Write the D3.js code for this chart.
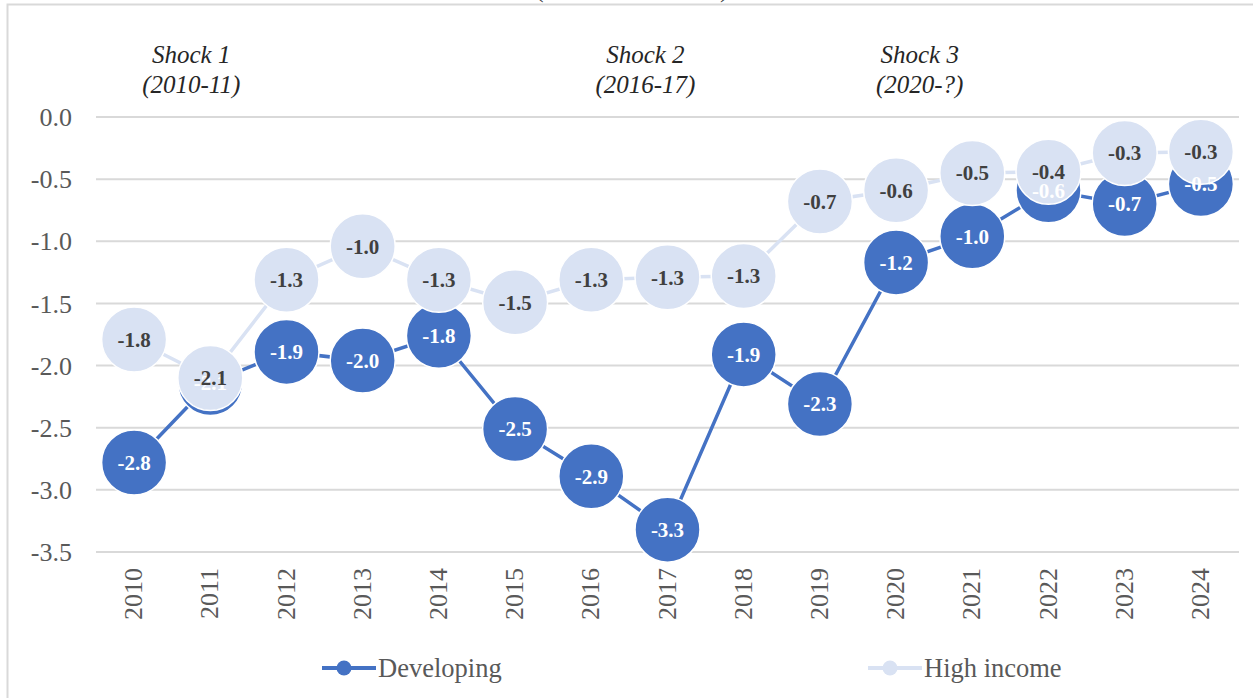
<!DOCTYPE html>
<html>
<head>
<meta charset="utf-8">
<script src="https://cdn.jsdelivr.net/npm/d3@7"></script>
<style>
  body { margin: 0; background: #fff; }
  svg { display: block; font-family: "Liberation Serif", "Times New Roman", serif; }
</style>
</head>
<body>
<div id="chart"></div>
<script>
// Data
const years = ["2010", "2011", "2012", "2013", "2014", "2015", "2016", "2017",
               "2018", "2019", "2020", "2021", "2022", "2023", "2024"];
const developing = [-2.78, -2.14, -1.89, -1.96, -1.76, -2.51, -2.89, -3.32,
                    -1.91, -2.31, -1.17, -0.96, -0.59, -0.70, -0.54];
const highIncome = [-1.79, -2.10, -1.31, -1.04, -1.31, -1.49, -1.31, -1.29,
                    -1.28, -0.68, -0.59, -0.45, -0.44, -0.29, -0.28];
const yTicks = [0, -0.5, -1.0, -1.5, -2.0, -2.5, -3.0, -3.5];
const shockYears = ["2010", "2016", "2020"];
const shockNames = ["Shock 1", "Shock 2", "Shock 3"];
const shockSpans = ["(2010-11)", "(2016-17)", "(2020-?)"];
const seriesNames = ["Developing", "High income"];

const width = 1253, height = 698;
const margin = {top: 117, right: 14, bottom: 146, left: 96};

const colors = {dev: "#4472C4", high: "#D9E2F3"};

const svg = d3.select("#chart").append("svg")
    .attr("width", width)
    .attr("height", height);

// Frame of the chart area
svg.append("rect")
    .attr("x", 7.5).attr("y", 4.5)
    .attr("width", width + 20).attr("height", height + 20)
    .attr("fill", "none")
    .attr("stroke", "#d9d9d9")
    .attr("stroke-width", 2);

// Bits of the title that are cut off at the top
svg.append("text").attr("x", 535).attr("y", -3).attr("font-size", 26).attr("fill", "#404040").text("(");
svg.append("text").attr("x", 720).attr("y", -3).attr("font-size", 26).attr("fill", "#404040").text(")");

const x = d3.scaleBand()
    .domain(years)
    .range([margin.left, width - margin.right]);

const y = d3.scaleLinear()
    .domain([-3.5, 0])
    .range([height - margin.bottom, margin.top]);

const cx = d => x(d) + x.bandwidth() / 2;

// Gridlines
svg.append("g")
    .selectAll("line")
    .data(yTicks)
    .join("line")
    .attr("x1", margin.left)
    .attr("x2", width - margin.right)
    .attr("y1", d => y(d))
    .attr("y2", d => y(d))
    .attr("stroke", "#d9d9d9")
    .attr("stroke-width", 2);

// Y axis labels
svg.append("g")
    .selectAll("text")
    .data(yTicks)
    .join("text")
    .attr("x", 72)
    .attr("y", d => y(d))
    .attr("dy", "0.35em")
    .attr("text-anchor", "end")
    .attr("font-size", 26)
    .attr("fill", "#595959")
    .text(d => d3.format(".1f")(d).replace("−", "-"));

// X axis labels (rotated)
svg.append("g")
    .selectAll("text")
    .data(years)
    .join("text")
    .attr("transform", d => `translate(${cx(d) - 1},${height - margin.bottom + 16}) rotate(-90)`)
    .attr("dy", "0.35em")
    .attr("text-anchor", "end")
    .attr("font-size", 26)
    .attr("fill", "#595959")
    .text(d => d);

// Shock annotations, nudged within the band like the original
const shockShift = [0.75, 0.71, 0.31];
const shockG = svg.append("g")
    .attr("font-style", "italic")
    .attr("font-size", 25)
    .attr("fill", "#262626")
    .attr("text-anchor", "middle");

shockG.selectAll(".name")
    .data(shockYears)
    .join("text")
    .attr("class", "name")
    .attr("x", (d, i) => cx(d) + shockShift[i] * x.step())
    .attr("y", 63)
    .text((d, i) => shockNames[i]);

shockG.selectAll(".span")
    .data(shockYears)
    .join("text")
    .attr("class", "span")
    .attr("x", (d, i) => cx(d) + shockShift[i] * x.step())
    .attr("y", 93)
    .text((d, i) => shockSpans[i]);

const line = d3.line()
    .x((d, i) => cx(years[i]))
    .y(d => y(d));

// Lines and markers first, then all data labels on top
function drawMarks(values, color) {
    const g = svg.append("g");
    g.append("path")
        .datum(values)
        .attr("d", line)
        .attr("fill", "none")
        .attr("stroke", color)
        .attr("stroke-width", 3.5);
    g.selectAll("circle")
        .data(values)
        .join("circle")
        .attr("cx", (d, i) => cx(years[i]))
        .attr("cy", d => y(d))
        .attr("r", 32.5)
        .attr("fill", color)
        .attr("stroke", "#fff")
        .attr("stroke-width", 1.5);
}

function drawLabels(values, labelColor) {
    svg.append("g")
        .selectAll("text")
        .data(values)
        .join("text")
        .attr("x", (d, i) => cx(years[i]))
        .attr("y", d => y(d))
        .attr("dy", "0.35em")
        .attr("text-anchor", "middle")
        .attr("font-size", 21)
        .attr("font-weight", "bold")
        .attr("fill", labelColor)
        .text(d => d3.format(".1f")(d).replace("−", "-"));
}

drawMarks(developing, colors.dev);
drawMarks(highIncome, colors.high);
drawLabels(developing, "#ffffff");
drawLabels(highIncome, "#404040");

// Legend
const legendX = [322, 868];
const legendColors = [colors.dev, colors.high];
const lg = svg.append("g");
seriesNames.forEach((name, i) => {
    const lx = legendX[i];
    lg.append("line")
        .attr("x1", lx).attr("x2", lx + 54)
        .attr("y1", 668).attr("y2", 668)
        .attr("stroke", legendColors[i]).attr("stroke-width", 4);
    lg.append("circle")
        .attr("cx", lx + 22).attr("cy", 668).attr("r", 7.5)
        .attr("fill", legendColors[i]);
    lg.append("text")
        .attr("x", lx + 56).attr("y", 677)
        .attr("font-size", 26.5)
        .attr("fill", "#595959")
        .text(name);
});
</script>
</body>
</html>
